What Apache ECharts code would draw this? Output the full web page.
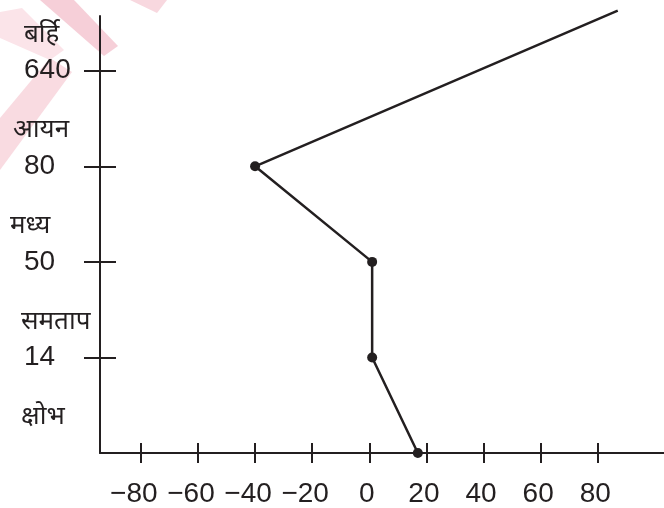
<!DOCTYPE html>
<html>
<head>
<meta charset="utf-8">
<script src="https://cdn.jsdelivr.net/npm/echarts@6/dist/echarts.min.js"></script>
<style>
html,body{margin:0;padding:0;background:#fff;}
#chart{width:664px;height:508px;}
</style>
</head>
<body>
<div id="chart"></div>
<script>
// Atmospheric layers (Hindi), altitude tick labels (km) and temperature profile
var layerNames = ['क्षोभ', 'समताप', 'मध्य', 'आयन', 'बर्हि'];
var altitudeLabels = ['', '14', '50', '80', '640'];
var levelIndex = [0, 1, 2, 3, 4.63];          // position on the layer scale
var temperature = [17, 1, 1, -40, 87];         // °C
var markerShown = [true, true, true, true, false];
var xTicks = [-80, -60, -40, -20, 0, 20, 40, 60, 80];

var INK = '#231f20';
var FONT = '"Liberation Sans", Arial, sans-serif';
var NAME_LIFT = 0.38;   // layer names sit a little above each level's tick
var YMAX = 4.573;

var seriesData = temperature.map(function (t, i) {
  return { value: [t, levelIndex[i]], symbolSize: markerShown[i] ? 10 : 0 };
});
var levelTicks = [1, 2, 3, 4];
var nameSlots = layerNames.map(function (n, i) { return i + NAME_LIFT; });

var chart = echarts.init(document.getElementById('chart'), null, { renderer: 'canvas' });

var nameRich = {};
var namePad = [11, 11, 0, 3, 14];
layerNames.forEach(function (n, i) {
  nameRich['n' + i] = { fontFamily: '"Noto Serif", "Noto Sans", serif', fontSize: 26, color: INK, padding: [0, 0, 0, namePad[i]] };
});

var option = {
  backgroundColor: '#ffffff',
  animation: false,
  graphic: [
    { type: 'polygon', silent: true, z: -10, shape: { points: [[0, 12], [22, 8], [64, 50], [50, 60], [0, 38]] }, style: { fill: '#fbe4e9' } },
    { type: 'polygon', silent: true, z: -10, shape: { points: [[0, 118], [50, 58], [72, 72], [0, 170]] }, style: { fill: '#f9dbe1' } },
    { type: 'polygon', silent: true, z: -10, shape: { points: [[40, 0], [74, 0], [118, 46], [104, 56]] }, style: { fill: '#f6cfd8' } },
    { type: 'polygon', silent: true, z: -10, shape: { points: [[130, 0], [167, 0], [157, 13]] }, style: { fill: '#f8d8df' } }
  ],
  grid: { left: 100, right: 0, top: 16, bottom: 53, containLabel: false },
  xAxis: [{
    type: 'value', min: -94.3, max: 103.2,
    axisLine: { show: true, onZero: false, lineStyle: { color: INK, width: 2 } },
    axisTick: { show: true, interval: 0, length: 10, lineStyle: { color: INK, width: 2 }, customValues: xTicks },
    axisLabel: {
      show: true, interval: 0, margin: 27, customValues: xTicks, showMinLabel: true, showMaxLabel: true,
      formatter: function (v) {
        return v < 0 ? '{neg|\u2212' + Math.abs(v) + '}' : '{pos|' + v + '}';
      },
      rich: {
        neg: { fontFamily: FONT, fontSize: 28, color: INK, padding: [0, 14, 0, 0] },
        pos: { fontFamily: FONT, fontSize: 28, color: INK, padding: [0, 5, 0, 0] }
      }
    },
    splitLine: { show: false }
  }, {
    type: 'value', min: -94.3, max: 103.2, position: 'bottom', offset: 0,
    axisLine: { show: false, onZero: false },
    axisTick: { show: true, interval: 0, inside: true, length: 10, lineStyle: { color: INK, width: 2 }, customValues: xTicks },
    axisLabel: { show: false },
    splitLine: { show: false }
  }],
  yAxis: [{
    type: 'value', min: 0, max: YMAX,
    axisLine: { show: true, onZero: false, lineStyle: { color: INK, width: 2 } },
    axisTick: { show: true, interval: 0, length: 16, lineStyle: { color: INK, width: 2 }, customValues: levelTicks },
    axisLabel: {
      show: true, interval: 0, align: 'left', margin: 76, customValues: levelTicks,
      showMinLabel: true, showMaxLabel: true,
      fontFamily: FONT, fontSize: 28, color: INK,
      formatter: function (v) { return altitudeLabels[Math.round(v)]; }
    },
    splitLine: { show: false }
  }, {
    type: 'value', min: 0, max: YMAX, position: 'left', offset: 0,
    axisLine: { show: false, onZero: false },
    axisTick: { show: true, interval: 0, inside: true, length: 16, lineStyle: { color: INK, width: 2 }, customValues: levelTicks },
    axisLabel: {
      show: true, interval: 0, align: 'left', margin: 90, customValues: nameSlots,
      showMinLabel: true, showMaxLabel: true,
      formatter: function (v) {
        var i = Math.floor(v);
        return '{n' + i + '|' + layerNames[i] + '}';
      },
      rich: nameRich
    },
    splitLine: { show: false }
  }],
  series: [{
    type: 'line',
    data: seriesData,
    clip: false,
    symbol: 'circle',
    showSymbol: true,
    lineStyle: { color: INK, width: 2.5 },
    itemStyle: { color: INK },
    z: 5
  }]
};
chart.setOption(option);
</script>
</body>
</html>
